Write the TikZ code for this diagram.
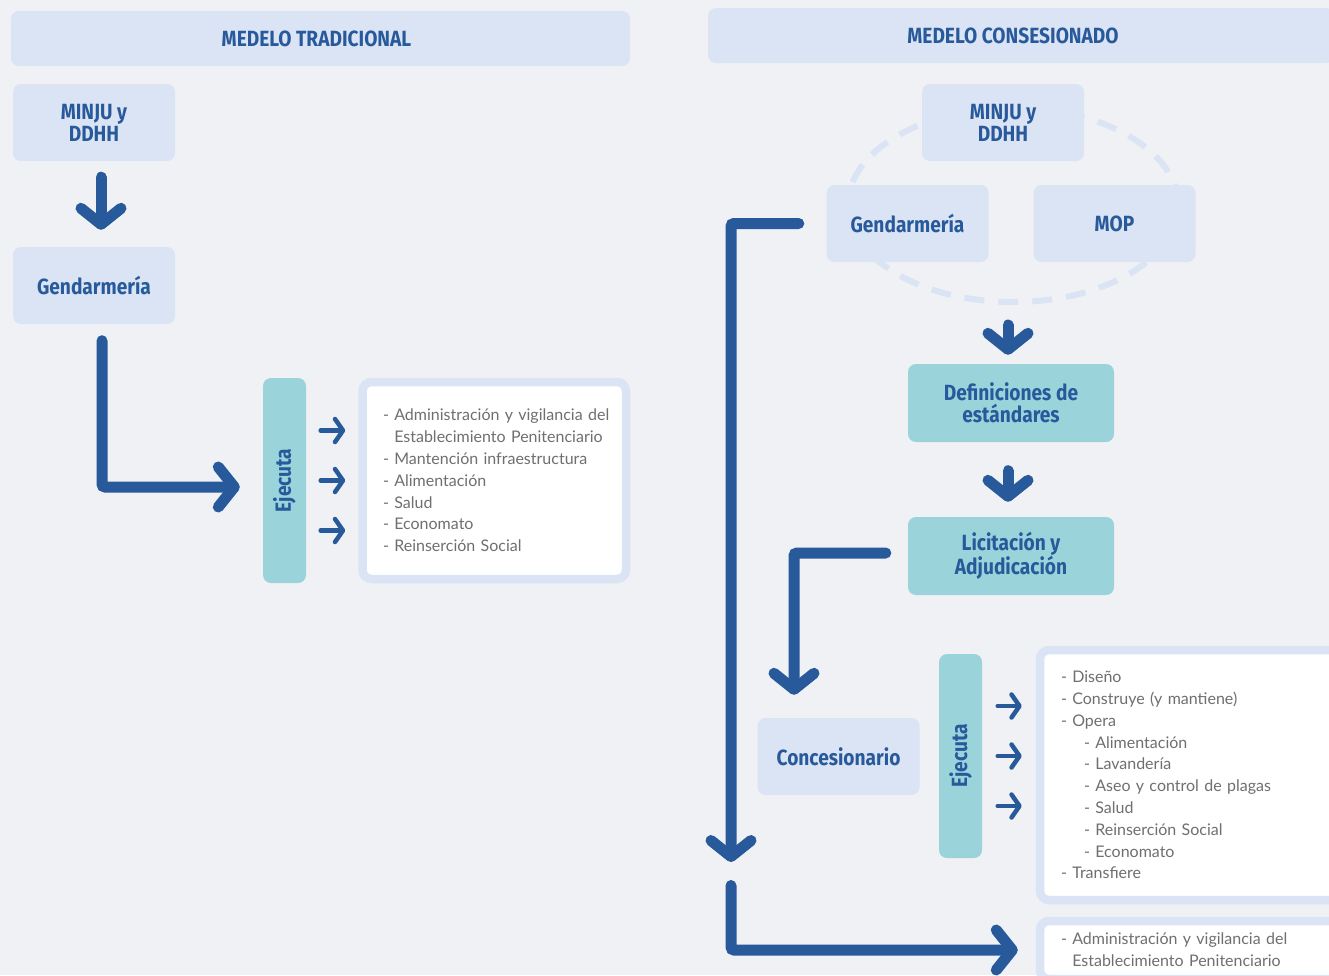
\documentclass[tikz,border=0pt]{standalone}
\usepackage{fontspec}
\setmainfont{Lato}
\newfontfamily\labelfont{Fira Sans}[FakeStretch=0.87]
\usetikzlibrary{arrows.meta,positioning}

\definecolor{bgcol}{HTML}{EFF1F5}
\definecolor{boxcol}{HTML}{DBE4F4}
\definecolor{tealcol}{HTML}{9AD4DA}
\definecolor{navy}{HTML}{285A9B}
\definecolor{listgray}{HTML}{6F6F6F}

\newcommand{\itm}[1]{\mbox{- #1}}
\newcommand{\subitm}[1]{\mbox{\hspace{23pt}- #1}}

\begin{document}
\begin{tikzpicture}[x=1pt,y=-1pt,
    every node/.style={inner sep=0pt},
    lightbox/.style={fill=boxcol, rounded corners=8pt, minimum width=162pt, minimum height=77pt,
      font=\labelfont\bfseries\fontsize{22}{22}\selectfont, text=navy, align=center},
    tealbox/.style={lightbox, fill=tealcol},
    titlebox/.style={lightbox, minimum height=55pt},
    ejecbox/.style={fill=tealcol, rounded corners=8pt, minimum width=43pt},
    listbox/.style={draw=boxcol, line width=8.5pt, fill=white, rounded corners=9pt, align=left,
      text=listgray, font=\fontsize{16}{21.8}\selectfont},
    bigarrow/.style={draw=navy, line width=11pt, line cap=round, rounded corners=3pt,
      -{Straight Barb[length=16pt,width=40pt,round]}},
    smallarrow/.style={draw=navy, line width=4.5pt, line cap=round,
      -{Straight Barb[length=8pt,width=23pt,round]}},
    ejectext/.style={rotate=90, text=navy, font=\labelfont\bfseries\fontsize{22}{22}\selectfont}
  ]
  \useasboundingbox[fill=bgcol] (0,0) rectangle (1329,975);

  % modelo tradicional
  \node[titlebox, minimum width=619pt] (tradtitle) at (320.5,38.5) {\hspace*{-8pt}MEDELO TRADICIONAL};
  \node[lightbox] (tradminju) at (94,122.5) {MINJU y\\DDHH};
  \node[lightbox] (tradgend) at (94,285.5) {Gendarmería};
  \node[ejecbox, minimum height=205pt] (tradejec) at (284.5,480.5) {};
  \node[ejectext] at (tradejec) {Ejecuta};
  \node[listbox, minimum width=263.5pt, minimum height=197pt, text width=222.5pt, inner xsep=20.5pt]
    (tradlist) at (494.25,480.5)
    {\itm{Administración y vigilancia del}\\
     \mbox{\phantom{- }Establecimiento Penitenciario}\\
     \itm{Mantención infraestructura}\\
     \itm{Alimentación}\\
     \itm{Salud}\\
     \itm{Economato}\\
     \itm{Reinserción Social}};

  \draw[bigarrow, shorten <=16pt, shorten >=17pt]
    ([xshift=7pt]tradminju.south) -- ([xshift=7pt]tradgend.north);
  \draw[bigarrow, shorten <=16.5pt, shorten >=23pt]
    ([xshift=8pt]tradgend.south) |- ([yshift=-6.5pt]tradejec.west);
  \foreach \dy in {-50,0,50}
    \draw[smallarrow, shorten <=14.5pt, shorten >=13pt]
      ([yshift=\dy pt]tradejec.east) -- ([yshift=\dy pt]tradlist.west);

  % modelo concesionado
  \node[titlebox, minimum width=626pt] (conctitle) at (1021,35.5) {\hspace*{-16pt}MEDELO CONSESIONADO};
  \draw[boxcol, line width=6pt, dash pattern=on 20pt off 14pt] (1013,205) ellipse [x radius=165, y radius=97];
  \coordinate (ellbot) at (1008,302);
  \node[lightbox] (concminju) at (1003,122.5) {MINJU y\\DDHH};
  \node[lightbox] (concgend) at (907.5,223.5) {Gendarmería};
  \node[lightbox] (concmop) at (1114.5,223.5) {MOP};
  \node[tealbox, minimum width=206pt, minimum height=78pt] (defin) at (1011,403) {Definiciones de\\estándares};
  \node[tealbox, minimum width=206pt, minimum height=78pt] (licit) at (1011,556) {Licitación y\\Adjudicación};
  \node[lightbox] (concesion) at (838.5,756.5) {Concesionario};
  \node[ejecbox, minimum height=204pt] (concejec) at (960.5,756) {};
  \node[ejectext] at (concejec) {Ejecuta};
  \node[listbox, minimum width=305pt, minimum height=250pt, text width=263pt, inner xsep=21pt]
    (conclist) at (1192.5,775)
    {\itm{Diseño}\\
     \itm{Construye (y mantiene)}\\
     \itm{Opera}\\
     \subitm{Alimentación}\\
     \subitm{Lavandería}\\
     \subitm{Aseo y control de plagas}\\
     \subitm{Salud}\\
     \subitm{Reinserción Social}\\
     \subitm{Economato}\\
     \itm{Transfiere}};
  \node[listbox, minimum width=305pt, minimum height=58pt, text width=263pt, inner xsep=21pt]
    (bottomlist) at (1192.5,950)
    {\itm{Administración y vigilancia del}\\
     \mbox{\phantom{- }Establecimiento Penitenciario}};
  \coordinate (fork) at (731,871);

  \draw[bigarrow, shorten <=23pt, shorten >=9pt] (ellbot) -- ([xshift=-3pt]defin.north);
  \draw[bigarrow, shorten <=28.5pt, shorten >=15pt]
    ([xshift=-3pt]defin.south) -- ([xshift=-3pt]licit.north);
  \draw[bigarrow, shorten <=22pt, shorten >=23pt]
    ([yshift=3pt]licit.west) -| ([xshift=-44.5pt]concesion.north);
  \draw[bigarrow, shorten <=27.5pt, shorten >=9pt] (concgend.west) -| (fork);
  \draw[bigarrow, shorten <=14.5pt, shorten >=18pt] (fork) |- (bottomlist.west);
  \foreach \dy in {-50,0,50}
    \draw[smallarrow, shorten <=15.5pt, shorten >=14pt]
      ([yshift=\dy pt]concejec.east) -- ([yshift=\dy pt]concejec.east -| conclist.west);
\end{tikzpicture}
\end{document}
